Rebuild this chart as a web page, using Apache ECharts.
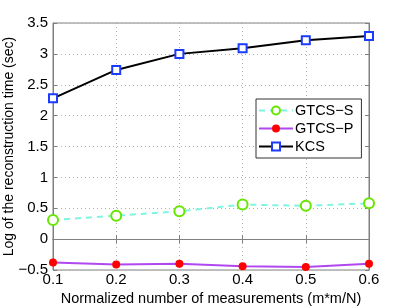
<!DOCTYPE html>
<html><head><meta charset="utf-8">
<script src="https://cdn.jsdelivr.net/npm/echarts@6/dist/echarts.min.js"></script>
<style>html,body{margin:0;padding:0;background:#fff}#c{width:407px;height:306px}</style>
</head><body><div id="c"></div>
<script>
const xValues = [0.1, 0.2, 0.3, 0.4, 0.5, 0.6];
const gtcsS = [0.31, 0.38, 0.45, 0.56, 0.54, 0.58];
const gtcsP = [-0.38, -0.41, -0.40, -0.44, -0.45, -0.40];
const kcs = [2.28, 2.74, 3.00, 3.09, 3.22, 3.29];
const seriesNames = ['GTCS\u2212S', 'GTCS\u2212P', 'KCS'];
const xTitle = 'Normalized number of measurements (m*m/N)';
const yTitle = 'Log of the reconstruction time (sec)';

const pair = arr => xValues.map((x, i) => [x, arr[i]]);
const font = 'Liberation Sans, Arial, sans-serif';
const axisGray = '#808080';
const fmtNum = v => String(Math.round(v * 10) / 10).replace('-', '\u2212');

const chart = echarts.init(document.getElementById('c'));
chart.setOption({
  animation: false,
  backgroundColor: '#fff',
  grid: { left: 53, right: 38, top: 23, bottom: 36, show: true, borderColor: axisGray, borderWidth: 1,
          containLabel: false, outerBoundsMode: 'none' },
  legend: {
    orient: 'vertical', left: 256, top: 99, width: 100,
    data: seriesNames,
    itemWidth: 34, itemHeight: 10, itemGap: 3,
    padding: [4, 8, 4, 2],
    borderColor: '#333', borderWidth: 1, backgroundColor: '#fff',
    textStyle: { fontFamily: font, fontSize: 14.5, color: '#000', padding: [0, 0, 0, -3] }
  },
  xAxis: [{
    type: 'value', min: 0.1, max: 0.6, interval: 0.1,
    name: xTitle, nameLocation: 'middle', nameGap: 21, nameMoveOverlap: false,
    nameTextStyle: { fontFamily: font, fontSize: 14.5, color: '#000' },
    axisLine: { show: true, lineStyle: { color: axisGray } },
    axisTick: { show: true, inside: true, length: 4, lineStyle: { color: axisGray } },
    axisLabel: { fontFamily: font, fontSize: 15, color: '#000', margin: 2, formatter: fmtNum },
    splitLine: { show: true, lineStyle: { color: '#b0b0b0', type: [1, 3] } }
  }, {
    type: 'value', min: 0.1, max: 0.6, interval: 0.1, position: 'top',
    axisLine: { show: true, lineStyle: { color: axisGray } },
    axisTick: { show: true, inside: true, length: 4, lineStyle: { color: axisGray } },
    axisLabel: { show: false }, splitLine: { show: false }
  }],
  yAxis: [{
    type: 'value', min: -0.5, max: 3.5, interval: 0.5,
    name: yTitle, nameLocation: 'middle', nameGap: 37, nameMoveOverlap: false,
    nameTextStyle: { fontFamily: font, fontSize: 14, color: '#000' },
    axisLine: { show: true, lineStyle: { color: axisGray } },
    axisTick: { show: true, inside: true, length: 4, lineStyle: { color: axisGray } },
    axisLabel: { fontFamily: font, fontSize: 15, color: '#000', margin: 5, formatter: fmtNum },
    splitLine: { show: true, lineStyle: { color: '#b0b0b0', type: [1, 3] } }
  }, {
    type: 'value', min: -0.5, max: 3.5, interval: 0.5, position: 'right',
    axisLine: { show: true, lineStyle: { color: axisGray } },
    axisTick: { show: true, inside: true, length: 4, lineStyle: { color: axisGray } },
    axisLabel: { show: false }, splitLine: { show: false }
  }],
  series: [{
    name: seriesNames[0], type: 'line', data: pair(gtcsS),
    symbol: 'circle', symbolSize: 10, showAllSymbol: true,
    lineStyle: { color: '#7ff5e0', width: 2, type: [6, 5] },
    itemStyle: { color: '#ffffff', borderColor: '#66e600', borderWidth: 2 }
  }, {
    name: seriesNames[1], type: 'line', data: pair(gtcsP),
    symbol: 'circle', symbolSize: 8,
    lineStyle: { color: '#b048f0', width: 2 },
    itemStyle: { color: '#ff0000', borderColor: '#ff0000', borderWidth: 0 }
  }, {
    name: seriesNames[2], type: 'line', data: pair(kcs),
    symbol: 'rect', symbolSize: 8,
    lineStyle: { color: '#000', width: 2 },
    itemStyle: { color: '#ffffff', borderColor: '#1a3cff', borderWidth: 2 }
  }]
});
</script></body></html>
